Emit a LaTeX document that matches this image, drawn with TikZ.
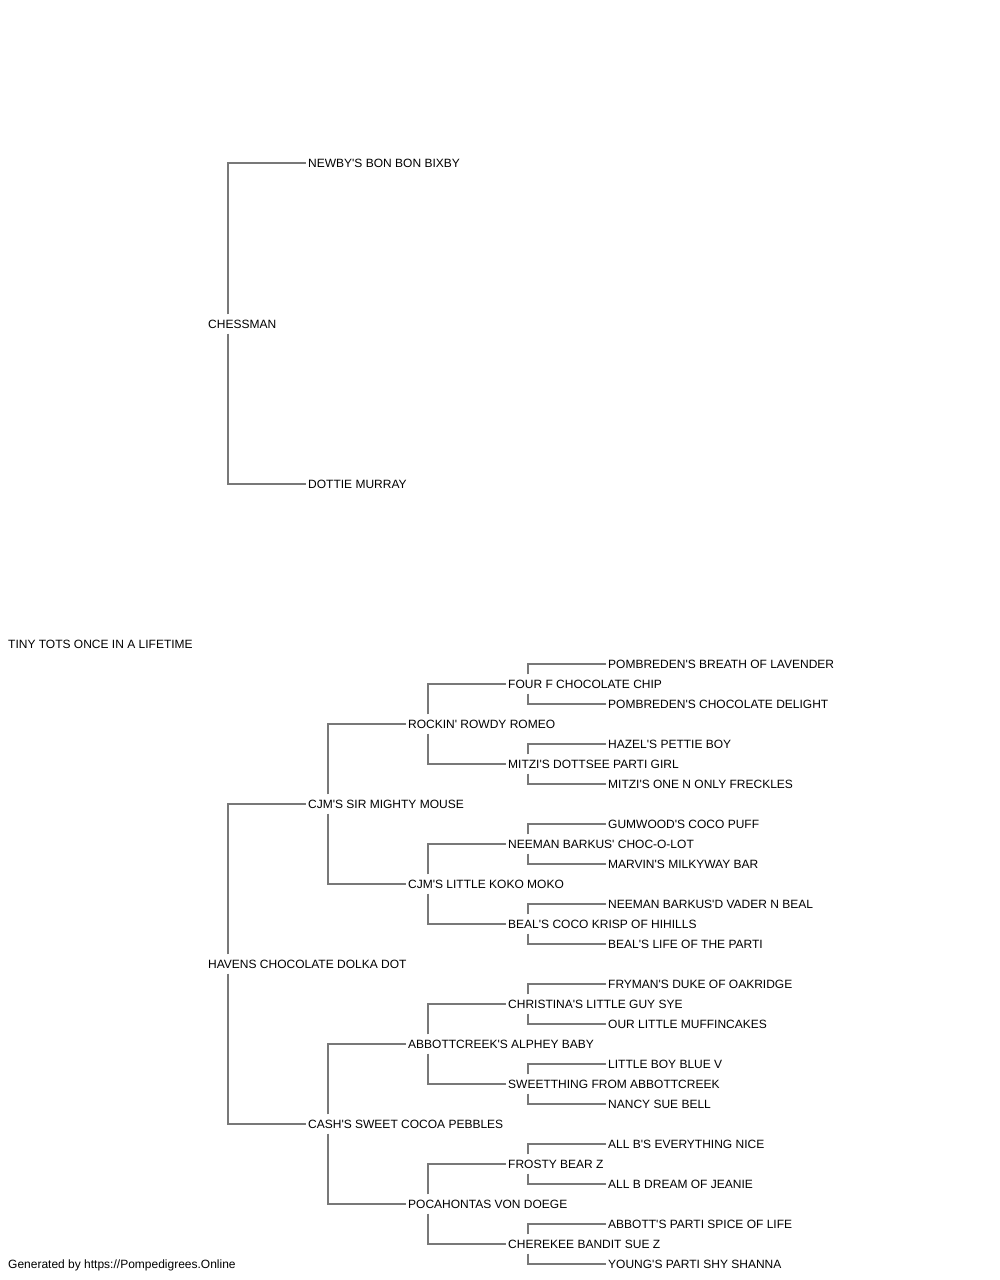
\documentclass[tikz,border=0pt]{standalone}
\usepackage{fontspec}
\setmainfont[Ligatures=TeXOff]{Liberation Sans}
\usepackage{xcolor}
\definecolor{linegray}{RGB}{120,120,120}

\begin{document}
\begin{tikzpicture}[x=1pt, y=-1pt,
  dog/.style={anchor=west, inner xsep=2pt, inner ysep=4pt, text height=10pt, text depth=1pt, font=\fontsize{12}{14}\selectfont},
  link/.style={draw=linegray, line width=1.5pt}]
\useasboundingbox (0,0) rectangle (1000,1280);
% subject and first generation
\node[dog] (root) at (6,644) {TINY TOTS ONCE IN A LIFETIME};
\node[dog] (s) at (206,324) {CHESSMAN};
\node[dog] (d) at (206,964) {HAVENS CHOCOLATE DOLKA DOT};
% grandparents
\node[dog] (ss) at (306,163) {NEWBY'S BON BON BIXBY};
\node[dog] (sd) at (306,484) {DOTTIE MURRAY};
\node[dog] (ds) at (306,804) {CJM'S SIR MIGHTY MOUSE};
\node[dog] (dd) at (306,1124) {CASH'S SWEET COCOA PEBBLES};
% third generation
\node[dog] (dss) at (406,724) {ROCKIN' ROWDY ROMEO};
\node[dog] (dsd) at (406,884) {CJM'S LITTLE KOKO MOKO};
\node[dog] (dds) at (406,1044) {ABBOTTCREEK'S ALPHEY BABY};
\node[dog] (ddd) at (406,1204) {POCAHONTAS VON DOEGE};
% fourth generation
\node[dog] (dsss) at (506,684) {FOUR F CHOCOLATE CHIP};
\node[dog] (dssd) at (506,764) {MITZI'S DOTTSEE PARTI GIRL};
\node[dog] (dsds) at (506,844) {NEEMAN BARKUS' CHOC-O-LOT};
\node[dog] (dsdd) at (506,924) {BEAL'S COCO KRISP OF HIHILLS};
\node[dog] (ddss) at (506,1004) {CHRISTINA'S LITTLE GUY SYE};
\node[dog] (ddsd) at (506,1084) {SWEETTHING FROM ABBOTTCREEK};
\node[dog] (ddds) at (506,1164) {FROSTY BEAR Z};
\node[dog] (dddd) at (506,1244) {CHEREKEE BANDIT SUE Z};
% fifth generation
\node[dog] (dssss) at (606,664) {POMBREDEN'S BREATH OF LAVENDER};
\node[dog] (dsssd) at (606,704) {POMBREDEN'S CHOCOLATE DELIGHT};
\node[dog] (dssds) at (606,744) {HAZEL'S PETTIE BOY};
\node[dog] (dssdd) at (606,784) {MITZI'S ONE N ONLY FRECKLES};
\node[dog] (dsdss) at (606,824) {GUMWOOD'S COCO PUFF};
\node[dog] (dsdsd) at (606,864) {MARVIN'S MILKYWAY BAR};
\node[dog] (dsdds) at (606,904) {NEEMAN BARKUS'D VADER N BEAL};
\node[dog] (dsddd) at (606,944) {BEAL'S LIFE OF THE PARTI};
\node[dog] (ddsss) at (606,984) {FRYMAN'S DUKE OF OAKRIDGE};
\node[dog] (ddssd) at (606,1024) {OUR LITTLE MUFFINCAKES};
\node[dog] (ddsds) at (606,1064) {LITTLE BOY BLUE V};
\node[dog] (ddsdd) at (606,1104) {NANCY SUE BELL};
\node[dog] (dddss) at (606,1144) {ALL B'S EVERYTHING NICE};
\node[dog] (dddsd) at (606,1184) {ALL B DREAM OF JEANIE};
\node[dog] (dddds) at (606,1224) {ABBOTT'S PARTI SPICE OF LIFE};
\node[dog] (ddddd) at (606,1264) {YOUNG'S PARTI SHY SHANNA};
% footer
\node[dog] (gen) at (6,1264) {Generated by https://Pompedigrees.Online};
% sire and dam links
\foreach \p in {s,d,ds,dd,dss,dsd,dds,ddd,dsss,dssd,dsds,dsdd,ddss,ddsd,ddds,dddd}{
  \draw[link] ([xshift=22pt]\p.north west) |- (\p s.west);
  \draw[link] ([xshift=22pt]\p.south west) |- (\p d.west);
}
\end{tikzpicture}
\end{document}
